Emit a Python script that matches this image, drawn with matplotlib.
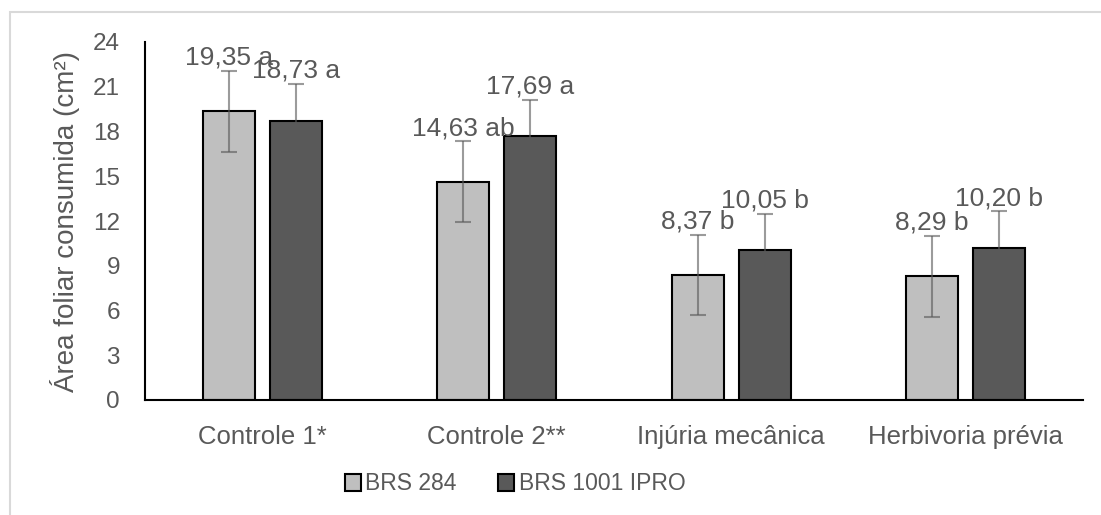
import matplotlib
matplotlib.use("Agg")
import matplotlib.pyplot as plt
from matplotlib.patches import Patch, Rectangle
import numpy as np

categories = ["Controle 1*", "Controle 2**", "Injúria mecânica", "Herbivoria prévia"]
series_names = ["BRS 284", "BRS 1001 IPRO"]
brs284 = [19.35, 14.63, 8.37, 8.29]
brs1001 = [18.73, 17.69, 10.05, 10.20]
err284 = [2.7, 2.7, 2.7, 2.7]
err1001 = [2.45, 2.45, 2.45, 2.45]
labels284 = ["19,35 a", "14,63 ab", "8,37 b", "8,29 b"]
labels1001 = ["18,73 a", "17,69 a", "10,05 b", "10,20 b"]
yticks = [0, 3, 6, 9, 12, 15, 18, 21, 24]

plt.rcParams['font.family'] = ['Liberation Sans', 'DejaVu Sans']
txt = '#595959'

W, H = 1101, 515
fig = plt.figure(figsize=(W/100, H/100), dpi=100)
ax = fig.add_axes([145/W, 1-400/H, (1083-145)/W, (400-42)/H])

x = np.arange(len(categories))
width = 0.222
off = 0.143
colors = ['#bfbfbf', '#595959']
for vals, errs, labs, c, sgn in [(brs284, err284, labels284, colors[0], -1),
                                  (brs1001, err1001, labels1001, colors[1], 1)]:
    xs = x + sgn*off
    ax.bar(xs, vals, width, color=c, edgecolor='black', linewidth=1.5, zorder=2)
    ax.errorbar(xs, vals, yerr=errs, fmt='none', ecolor='#595959', alpha=0.6,
                elinewidth=1.5, capsize=5.5, capthick=1.5, zorder=3)
    for xi, v, e, l in zip(xs, vals, errs, labs):
        ax.annotate(l, (xi, v+e), xytext=(0, 4.5), textcoords='offset points',
                    ha='center', va='baseline', fontsize=19, color=txt, zorder=4)

ax.set_xlim(-0.5, 3.5)
ax.set_ylim(0, 24)
ax.set_yticks(yticks)
ax.set_yticklabels([str(t) for t in yticks])
ax.set_xticks(x)
ax.set_xticklabels(categories)
ax.tick_params(axis='y', length=0, pad=18, labelsize=17.5, labelcolor=txt)
ax.tick_params(axis='x', length=0, pad=18, labelsize=18.5, labelcolor=txt)
for s in ['top', 'right']:
    ax.spines[s].set_visible(False)
for s in ['left', 'bottom']:
    ax.spines[s].set_linewidth(1.5)
    ax.spines[s].set_color('black')
ax.set_ylabel("Área foliar consumida (cm²)", fontsize=20, color=txt)
ax.yaxis.set_label_coords((80-145)/(1083-145), 0.5)

handles = [Patch(facecolor=colors[0], edgecolor='black', linewidth=1.5),
           Patch(facecolor=colors[1], edgecolor='black', linewidth=1.5)]
leg = fig.legend(handles, series_names, loc='center', bbox_to_anchor=(515/W, 1-484/H),
                 ncol=2, frameon=False, fontsize=16.5, handlelength=0.7, handleheight=0.7,
                 handletextpad=0.2, columnspacing=1.8)
for t in leg.get_texts():
    t.set_color(txt)

fig.patches.append(Rectangle((10/W, -0.2), 1.2, 1.2 - 12/H, transform=fig.transFigure,
                             fill=False, edgecolor='#d9d9d9', linewidth=1.5))

fig.savefig('out.png', dpi=100)
